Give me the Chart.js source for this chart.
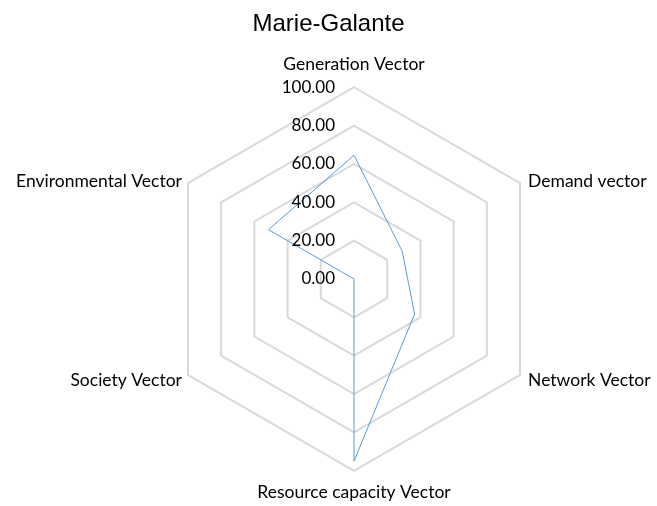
<!DOCTYPE html>
<html>
<head>
<meta charset="utf-8">
<script src="https://cdn.jsdelivr.net/npm/chart.js@4/dist/chart.umd.min.js"></script>
<style>
html,body{margin:0;padding:0;background:#fff;}
#wrap{width:657px;height:506px;}
</style>
</head>
<body>
<div id="wrap"><canvas id="c" width="657" height="506"></canvas></div>
<script>
const chartTitle = "Marie-Galante";
const categories = ["Generation Vector","Demand vector","Network Vector","Resource capacity Vector","Society Vector","Environmental Vector"];
const values = [64.5, 29, 36.5, 95, 0, 51.5];
const tickValues = [0, 20, 40, 60, 80, 100];

const FONT = "Lato, 'Liberation Sans', sans-serif";

const labelPlugin = {
  id: 'excelLabels',
  afterDatasetsDraw(chart) {
    const s = chart.scales.r;
    const ctx = chart.ctx;
    ctx.save();
    ctx.fillStyle = "#000";
    // tick labels, right-aligned left of the vertical axis
    ctx.font = "17px " + FONT;
    ctx.textAlign = "right";
    ctx.textBaseline = "middle";
    tickValues.forEach(v => {
      const d = s.getDistanceFromCenterForValue(v);
      ctx.fillText(v.toFixed(2), s.xCenter - 19, s.yCenter - d);
    });
    // category labels, placed around the outer vertices
    ctx.font = "17.5px " + FONT;
    ctx.textBaseline = "alphabetic";
    categories.forEach((lab, i) => {
      const p = s.getPointPosition(i, s.drawingArea);
      const dx = p.x - s.xCenter, dy = p.y - s.yCenter;
      let x = p.x, y = p.y;
      if (Math.abs(dx) < 1) {
        ctx.textAlign = "center";
        y = dy < 0 ? p.y - 17 : p.y + 27;
      } else {
        ctx.textAlign = dx > 0 ? "left" : "right";
        x = dx > 0 ? p.x + 8 : p.x - 6;
        y = dy < 0 ? p.y + 3.5 : p.y + 11;
      }
      ctx.fillText(lab, x, y);
    });
    ctx.restore();
  }
};

new Chart(document.getElementById('c'), {
  type: 'radar',
  data: {
    labels: categories,
    datasets: [{
      data: values,
      borderColor: '#5B9BD5',
      borderWidth: 1,
      backgroundColor: 'rgba(0,0,0,0)',
      fill: false,
      pointRadius: 0,
      tension: 0
    }]
  },
  options: {
    responsive: false,
    animation: false,
    layout: { padding: 0 },
    plugins: {
      legend: { display: false },
      tooltip: { enabled: false },
      title: {
        display: true,
        text: chartTitle,
        color: '#000',
        font: { family: "'Liberation Sans', Arial, sans-serif", size: 24, weight: 'normal' },
        padding: { top: 10, bottom: 15 }
      }
    },
    scales: {
      r: {
        min: 0,
        max: 100,
        afterSetDimensions(s) {
          s.left = -1;
          s.right = 675;
          s.width = 676;
          s.xCenter = 337;
        },
        ticks: { stepSize: 20, display: false },
        angleLines: { display: false },
        grid: { color: '#D9D9D9', lineWidth: 2 },
        pointLabels: {
          color: 'rgba(0,0,0,0)',
          font: { family: FONT, size: 17.5 },
          padding: 7
        }
      }
    }
  },
  plugins: [labelPlugin]
});
</script>
</body>
</html>
